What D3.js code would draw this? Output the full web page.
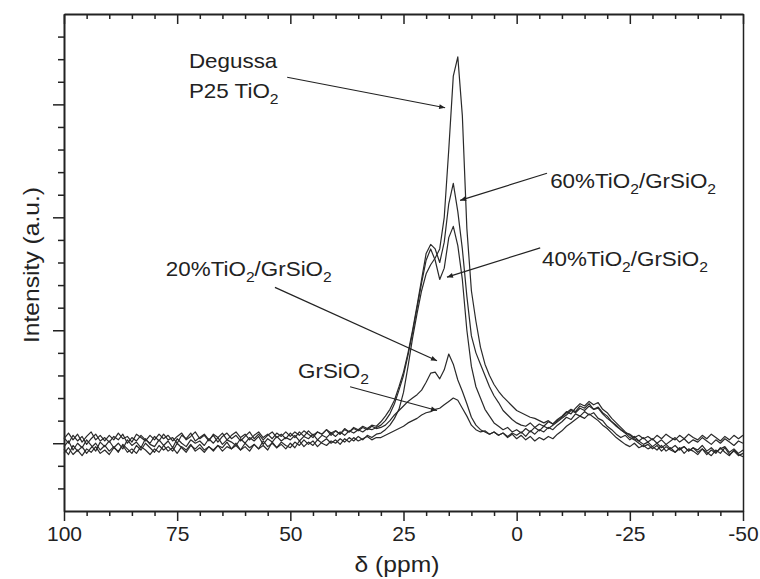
<!DOCTYPE html>
<html lang="en">
  <head>
    <meta charset="UTF-8" />
    <title>29Si / 17O NMR spectra</title>
    <script src="https://d3js.org/d3.v7.min.js"></script>
    <style>
      body {
        margin: 0;
        background: #fff;
        font-family: "Liberation Sans", Arial, sans-serif;
      }
      .axis text {
        font-size: 21px;
        fill: #222;
      }
      .axis path,
      .axis line {
        stroke: #222;
      }
      .label {
        font-size: 20px;
        fill: #222;
      }
      .title {
        font-size: 22px;
        fill: #222;
      }
      .spectrum {
        fill: none;
        stroke: #2a2a2a;
        stroke-width: 1.2;
        stroke-linejoin: round;
      }
    </style>
  </head>
  <body>
    <svg width="760" height="579"></svg>

    <script>
      // chemical shift grid, ppm (100 down to -50, step 1)
      const shifts = d3.range(100, -51, -1);

      // intensities (a.u.), one value per ppm
      const degussa = [
        -0.09, -0.04, -0.1, -0.06, -0.11, -0.05, -0.08, -0.03, -0.09, -0.06,
        -0.1, -0.04, -0.07, -0.02, -0.08, -0.05, -0.09, -0.03, -0.06, -0.1,
        -0.05, -0.08, -0.02, -0.07, -0.04, -0.09, -0.03, -0.06, -0.01, -0.07,
        -0.04, -0.08, -0.03, -0.06, -0.02, -0.07, -0.03, -0.05, 0.0, -0.06,
        -0.03, -0.07, -0.01, -0.05, -0.02, -0.06, 0.01, -0.04, -0.01, -0.05,
        0.0, -0.04, 0.02, -0.03, 0.01, -0.02, 0.03, 0.0, -0.02, 0.02,
        0.0, 0.04, 0.01, 0.05, 0.02, 0.06, 0.03, 0.07, 0.05, 0.08,
        0.09, 0.12, 0.16, 0.22, 0.3, 0.45, 0.68, 0.93, 1.15, 1.35,
        1.5, 1.58, 1.64, 1.72, 2.0, 2.6, 3.25, 3.42, 2.9, 1.9,
        1.35, 1.08, 0.85, 0.7, 0.6, 0.52, 0.46, 0.41, 0.37, 0.33,
        0.29, 0.27, 0.25, 0.23, 0.22, 0.2, 0.18, 0.2, 0.17, 0.2,
        0.23, 0.27, 0.3, 0.28, 0.33, 0.31, 0.35, 0.3, 0.32, 0.27,
        0.24, 0.19, 0.16, 0.12, 0.09, 0.05, 0.03, 0.0, -0.03, -0.01,
        -0.05, -0.02, -0.07, -0.03, -0.06, -0.08, -0.04, -0.09, -0.05, -0.07,
        -0.1, -0.05, -0.08, -0.11, -0.06, -0.09, -0.04, -0.1, -0.07, -0.11,
        -0.09,
      ];
      const tio2_60 = [
        0.05, 0.0, 0.07, 0.02, 0.06, -0.01, 0.04, 0.08, 0.02, 0.05,
        0.01, 0.06, 0.03, 0.08, 0.0, 0.05, 0.02, 0.07, 0.03, 0.0,
        0.06, 0.02, 0.08, 0.03, 0.05, 0.0, 0.07, 0.04, 0.09, 0.02,
        0.05, 0.08, 0.03, 0.07, 0.01, 0.06, 0.09, 0.04, 0.07, 0.02,
        0.06, 0.1, 0.04, 0.08, 0.03, 0.07, 0.1, 0.05, 0.08, 0.04,
        0.09, 0.05, 0.1, 0.06, 0.11, 0.07, 0.1, 0.08, 0.12, 0.07,
        0.11, 0.08, 0.13, 0.1, 0.14, 0.12, 0.15, 0.13, 0.16, 0.15,
        0.19, 0.24, 0.3, 0.38, 0.5, 0.63, 0.8, 1.0, 1.22, 1.45,
        1.68, 1.76, 1.72, 1.6, 1.78, 2.12, 2.3, 2.05, 1.72, 1.3,
        0.95, 0.8, 0.7, 0.6, 0.5, 0.42, 0.36, 0.29, 0.25, 0.21,
        0.18, 0.16, 0.15, 0.18, 0.14, 0.17, 0.15, 0.19, 0.17, 0.21,
        0.24, 0.28, 0.26, 0.31, 0.35, 0.33, 0.37, 0.34, 0.36, 0.3,
        0.27, 0.22, 0.18, 0.14, 0.1, 0.07, 0.04, 0.02, -0.01, 0.01,
        -0.03, 0.0, -0.04, -0.01, -0.05, -0.02, -0.06, -0.03, -0.07, -0.04,
        -0.06, -0.02, -0.07, -0.04, -0.08, -0.05, -0.03, -0.08, -0.05, -0.09,
        -0.06,
      ];
      const tio2_40 = [
        -0.03, 0.02, -0.06, 0.0, -0.04, 0.03, -0.02, -0.07, 0.01, -0.03,
        0.02, -0.04, 0.0, -0.05, 0.03, -0.02, 0.01, -0.04, 0.04, -0.01,
        -0.03, 0.03, -0.02, 0.02, -0.04, 0.04, 0.0, -0.03, 0.03, 0.0,
        0.02, -0.02, 0.04, 0.0, 0.05, -0.01, 0.03, 0.01, -0.02, 0.04,
        0.0, 0.05, 0.02, 0.06, -0.01, 0.04, 0.01, 0.06, 0.02, 0.05,
        0.03, 0.07, 0.02, 0.06, 0.04, 0.08, 0.03, 0.07, 0.05, 0.09,
        0.06, 0.1, 0.07, 0.11, 0.09, 0.12, 0.1, 0.13, 0.12, 0.14,
        0.16, 0.2, 0.26, 0.35, 0.47, 0.6, 0.78, 0.98, 1.2, 1.42,
        1.62, 1.72, 1.62, 1.45, 1.55, 1.82, 1.92, 1.75, 1.45, 1.0,
        0.68, 0.5, 0.4, 0.3, 0.24, 0.18, 0.15, 0.12, 0.14, 0.1,
        0.12, 0.09, 0.13, 0.1, 0.14, 0.11, 0.15, 0.13, 0.16, 0.19,
        0.22, 0.25, 0.29, 0.27, 0.31, 0.29, 0.33, 0.3, 0.31, 0.26,
        0.22, 0.19, 0.15, 0.12, 0.09, 0.08, 0.05, 0.07, 0.04, 0.06,
        0.03, 0.07, 0.04, 0.08, 0.05, 0.03, 0.07, 0.04, 0.08, 0.05,
        0.03, 0.07, 0.04, 0.08, 0.05, 0.02, 0.06, 0.03, 0.07, 0.04,
        0.07,
      ];
      const tio2_20 = [
        0.04, 0.09, 0.03, 0.08, 0.01, 0.06, 0.1, 0.03, 0.07, 0.02,
        0.07, 0.03, 0.09, 0.04, 0.06, 0.01, 0.08, 0.05, 0.02, 0.07,
        0.03, 0.08, 0.04, 0.07, 0.02, 0.06, 0.09, 0.03, 0.06, 0.1,
        0.04, 0.07, 0.02, 0.08, 0.05, 0.09, 0.03, 0.07, 0.1, 0.05,
        0.08, 0.03, 0.07, 0.1, 0.05, 0.08, 0.04, 0.09, 0.06, 0.1,
        0.06, 0.1, 0.07, 0.11, 0.08, 0.05, 0.1, 0.08, 0.12, 0.09,
        0.11, 0.08, 0.12, 0.1, 0.13, 0.11, 0.14, 0.12, 0.15, 0.13,
        0.14, 0.16, 0.2, 0.25, 0.29, 0.33, 0.37, 0.4, 0.43, 0.47,
        0.54, 0.62, 0.63, 0.57, 0.65, 0.79, 0.7, 0.56, 0.46, 0.35,
        0.23, 0.16, 0.12, 0.1, 0.08, 0.1, 0.07, 0.09, 0.06, 0.09,
        0.07, 0.1, 0.06, 0.11, 0.08, 0.12, 0.1, 0.14, 0.12, 0.16,
        0.19, 0.23, 0.21, 0.26, 0.24, 0.28, 0.25, 0.27, 0.22, 0.2,
        0.15, 0.12, 0.08, 0.05, 0.07, 0.03, 0.06, 0.02, 0.05, 0.01,
        0.04, 0.0, 0.03, -0.01, 0.02, 0.05, 0.01, 0.04, 0.0, 0.03,
        0.01, 0.05, 0.02, -0.01, 0.03, 0.0, 0.04, 0.01, -0.02, 0.02,
        0.0,
      ];
      const grsio2 = [
        -0.05, -0.1, -0.02, -0.07, -0.03, -0.09, -0.04, 0.0, -0.06, -0.02,
        -0.07, -0.03, -0.08, -0.01, -0.05, -0.09, -0.02, -0.06, 0.0, -0.04,
        -0.08, -0.02, -0.06, -0.03, -0.07, 0.0, -0.04, -0.08, -0.02, -0.05,
        -0.01, -0.06, -0.03, -0.07, -0.02, -0.04, 0.01, -0.05, -0.02, -0.06,
        0.0, -0.04, -0.01, -0.05, 0.02, -0.03, 0.0, -0.04, 0.01, -0.02,
        -0.04, 0.01, -0.02, 0.03, -0.01, 0.02, -0.03, 0.01, 0.04, 0.0,
        0.03, -0.01, 0.04, 0.01, 0.05, 0.02, 0.04, 0.06, 0.03, 0.05,
        0.05, 0.07, 0.09, 0.11, 0.13, 0.15, 0.18, 0.2, 0.22, 0.25,
        0.27, 0.28, 0.3, 0.31, 0.34, 0.37, 0.4, 0.38, 0.31, 0.24,
        0.16, 0.12, 0.1, 0.11, 0.08, 0.1, 0.07, 0.09, 0.05, 0.08,
        0.04, 0.07, 0.03, 0.06, 0.02, 0.05, 0.03, 0.06, 0.04, 0.08,
        0.11, 0.15, 0.18, 0.21, 0.24, 0.22, 0.26, 0.23, 0.2, 0.16,
        0.13, 0.09, 0.05, 0.02, -0.01, -0.03, 0.0, -0.04, -0.02, -0.05,
        -0.03, -0.06, -0.02, -0.07, -0.04, -0.08, -0.05, -0.03, -0.07, -0.04,
        -0.08, -0.05, -0.1, -0.06, -0.09, -0.04, -0.08, -0.11, -0.06, -0.1,
        -0.12,
      ];

      const series = [degussa, tio2_60, tio2_40, tio2_20, grsio2];

      // axis ticks
      const xMajor = [100, 75, 50, 25, 0, -25, -50];
      const xMinor = d3.range(95, -50, -5).filter((d) => d % 25 !== 0);
      const yMajor = [0, 1, 2, 3];
      const yMinor = [-0.4, -0.2, 0.2, 0.4, 0.6, 0.8, 1.2, 1.4, 1.6, 1.8,
        2.2, 2.4, 2.6, 2.8, 3.2, 3.4, 3.6];

      // annotation labels: [ppm, intensity, text parts (odd ones are subscripts)]
      const labels = [
        [72.4, 3.32, ["Degussa"]],
        [72.4, 3.06, ["P25 TiO", "2"]],
        [-7.4, 2.26, ["60%TiO", "2", "/GrSiO", "2"]],
        [-5.6, 1.57, ["40%TiO", "2", "/GrSiO", "2"]],
        [77.5, 1.48, ["20%TiO", "2", "/GrSiO", "2"]],
        [48.3, 0.58, ["GrSiO", "2"]],
      ];
      // arrows: [from ppm, from I, to ppm, to I]
      const arrows = [
        [50.7, 3.24, 15.8, 2.97],
        [-6.7, 2.39, 12.5, 2.15],
        [-5.2, 1.73, 15.4, 1.47],
        [53.4, 1.38, 17.6, 0.73],
        [36.8, 0.5, 17.6, 0.29],
      ];

      const svg = d3.select("svg");
      const margin = { top: 14, right: 17, bottom: 68, left: 64 };
      const width = 760 - margin.left - margin.right;
      const height = 579 - margin.top - margin.bottom;
      const g = svg
        .append("g")
        .attr("transform", `translate(${margin.left},${margin.top})`);

      const x = d3.scaleLinear().domain([100, -50]).range([0, width]);
      const y = d3.scaleLinear().domain([-0.6, 3.8]).range([height, 0]);

      svg
        .append("defs")
        .append("marker")
        .attr("id", "head")
        .attr("viewBox", "0 0 10 10")
        .attr("refX", 10)
        .attr("refY", 5)
        .attr("markerWidth", 9)
        .attr("markerHeight", 6)
        .attr("markerUnits", "userSpaceOnUse")
        .attr("orient", "auto")
        .append("path")
        .attr("d", "M0,1 L10,5 L0,9 Z")
        .attr("fill", "#222");

      const fmt = (d) => String(d);

      // bottom axis
      g.append("g")
        .attr("class", "axis")
        .attr("transform", `translate(0,${height})`)
        .call(d3.axisBottom(x).tickValues(xMajor).tickFormat(fmt).tickSize(10).tickSizeOuter(0).tickPadding(5))
        .call((a) => a.select(".domain").attr("stroke-width", 2));
      g.append("g")
        .attr("class", "axis")
        .attr("transform", `translate(0,${height})`)
        .call(d3.axisBottom(x).tickValues(xMinor).tickFormat("").tickSize(5).tickSizeOuter(0))
        .call((a) => a.select(".domain").remove());

      // top axis, ticks inward
      g.append("g")
        .attr("class", "axis")
        .call(d3.axisBottom(x).tickValues(xMajor).tickFormat("").tickSize(10).tickSizeOuter(0))
        .call((a) => a.select(".domain").attr("stroke-width", 2));
      g.append("g")
        .attr("class", "axis")
        .call(d3.axisBottom(x).tickValues(xMinor).tickFormat("").tickSize(5).tickSizeOuter(0))
        .call((a) => a.select(".domain").remove());

      // left axis, no labels
      g.append("g")
        .attr("class", "axis")
        .call(d3.axisLeft(y).tickValues(yMajor).tickFormat("").tickSize(11).tickSizeOuter(0))
        .call((a) => a.select(".domain").attr("stroke-width", 2));
      g.append("g")
        .attr("class", "axis")
        .call(d3.axisLeft(y).tickValues(yMinor).tickFormat("").tickSize(6).tickSizeOuter(0))
        .call((a) => a.select(".domain").remove());

      // right frame
      g.append("g")
        .attr("class", "axis")
        .attr("transform", `translate(${width},0)`)
        .call(d3.axisRight(y).tickValues([]).tickSizeOuter(0))
        .call((a) => a.select(".domain").attr("stroke-width", 1.5));

      g.selectAll("g.axis line").attr("stroke-width", 1.5);

      // spectra
      const line = d3
        .line()
        .x((d, i) => x(shifts[i]))
        .y((d) => y(d));

      g.selectAll(".spectrum")
        .data(series)
        .enter()
        .append("path")
        .attr("class", "spectrum")
        .attr("d", line);

      // arrows
      g.selectAll(".arrow")
        .data(arrows)
        .enter()
        .append("line")
        .attr("class", "arrow")
        .attr("x1", (d) => x(d[0]))
        .attr("y1", (d) => y(d[1]))
        .attr("x2", (d) => x(d[2]))
        .attr("y2", (d) => y(d[3]))
        .attr("stroke", "#222")
        .attr("stroke-width", 1.2)
        .attr("marker-end", "url(#head)");

      // labels with subscripts (the original lettering is a bit wide)
      labels.forEach(([px, py, parts]) => {
        const t = g
          .append("text")
          .attr("class", "label")
          .attr("transform", `translate(${x(px)},${y(py)}) scale(1.12,1)`);
        parts.forEach((p, i) => {
          const sub = i % 2 === 1;
          t.append("tspan")
            .attr("font-size", sub ? 14 : 20)
            .attr("dy", sub ? 6 : i > 0 ? -6 : 0)
            .text(p);
        });
      });

      // axis titles
      svg
        .append("text")
        .attr("class", "title")
        .attr("text-anchor", "middle")
        .attr("transform", `translate(39,265) rotate(-90) scale(1.12,1)`)
        .text("Intensity (a.u.)");

      svg
        .append("text")
        .attr("class", "title")
        .attr("text-anchor", "middle")
        .attr("transform", `translate(397,572) scale(1.12,1)`)
        .text("\u03b4 (ppm)");
    </script>
  </body>
</html>
